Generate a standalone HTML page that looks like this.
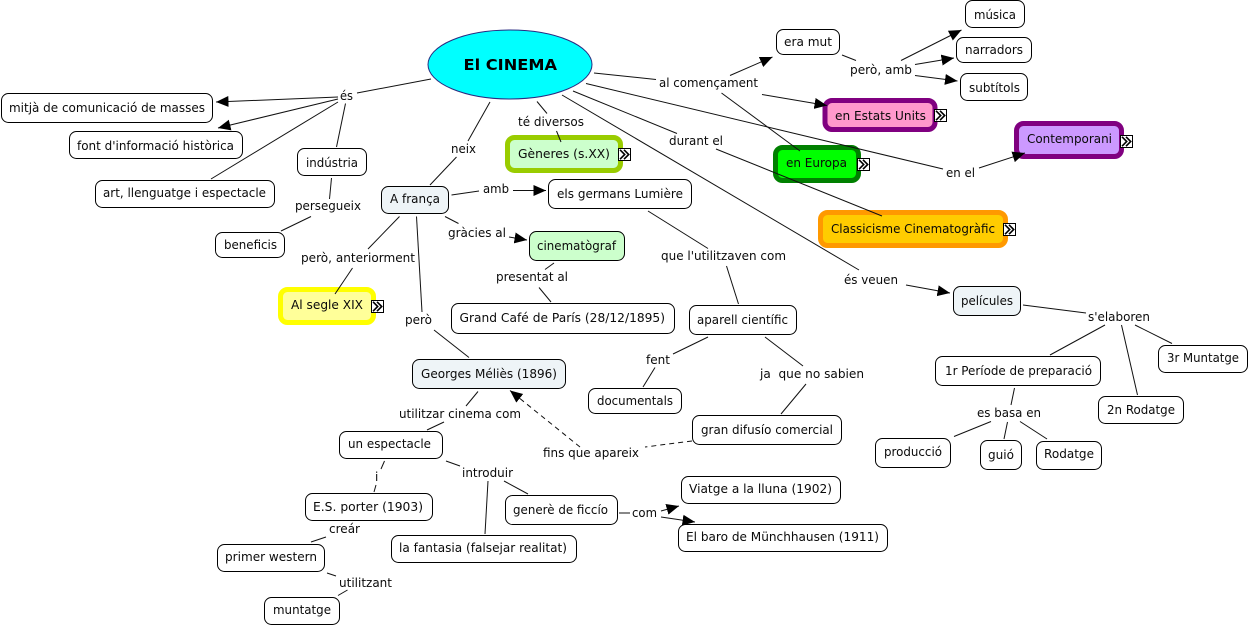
<!DOCTYPE html>
<html><head><meta charset="utf-8"><title>El CINEMA</title>
<style>
html,body{margin:0;padding:0;background:#fff;width:1250px;height:626px;overflow:hidden}
svg{display:block}
text{font-family:"DejaVu Sans","Liberation Sans",sans-serif;font-size:12px;fill:#0a0a0a}
.n{fill:#fff;stroke:#000;stroke-width:1}
.l{stroke:#111;stroke-width:1;fill:none}
.a{stroke:#111;stroke-width:1;fill:none;marker-end:url(#ah)}
.d{stroke:#111;stroke-width:1;fill:none;stroke-dasharray:5 4}
</style></head><body>
<svg width="1250" height="626" viewBox="0 0 1250 626" xmlns="http://www.w3.org/2000/svg">
<defs>
<marker id="ah" markerUnits="userSpaceOnUse" markerWidth="14" markerHeight="13" refX="12.5" refY="6" orient="auto"><path d="M0 0.5L12.5 6L0 11.5Z" fill="#000"/></marker>
<g id="ic"><rect x=".5" y=".5" width="12" height="12" fill="#fff" stroke="#000"/><path d="M2 1.8L6.7 6.5L2 11.2M6 1.8L10.7 6.5L6 11.2" fill="none" stroke="#000" stroke-width="1.6"/></g>
</defs>
<rect width="1250" height="626" fill="#fff"/>

<!-- nodes -->
<ellipse cx="510" cy="64.5" rx="82" ry="34.5" fill="#00ffff" stroke="#2a2a80"/>
<rect class="n" x="1.5" y="93.5" width="211" height="29" rx="7"/>
<rect class="n" x="69.5" y="131.5" width="173" height="27" rx="7"/>
<rect class="n" x="95.5" y="180.5" width="179" height="27" rx="7"/>
<rect class="n" x="297.5" y="148.5" width="69" height="27" rx="7"/>
<rect class="n" x="215.5" y="232.5" width="69" height="25" rx="7"/>
<rect x="381.5" y="186.5" width="67" height="27" rx="7" fill="#eef4f7" stroke="#000"/>
<rect class="n" x="548.5" y="179.5" width="143" height="29" rx="7"/>
<rect x="529.5" y="231.5" width="95" height="29" rx="7" fill="#ccffcc" stroke="#000"/>
<rect class="n" x="451.5" y="303.5" width="223" height="30" rx="7"/>
<rect class="n" x="689.5" y="305.5" width="107" height="29" rx="7"/>
<rect class="n" x="776.5" y="29.5" width="63" height="25" rx="7"/>
<rect class="n" x="965.5" y=".5" width="59" height="27" rx="7"/>
<rect class="n" x="956.5" y="37.5" width="75" height="25" rx="7"/>
<rect class="n" x="960.5" y="73.5" width="67" height="27" rx="7"/>
<rect x="953.5" y="286.5" width="67" height="29" rx="7" fill="#eef4f7" stroke="#000"/>
<rect class="n" x="935.5" y="356.5" width="165" height="29" rx="7"/>
<rect class="n" x="1158.5" y="345.5" width="89" height="27" rx="7"/>
<rect class="n" x="1098.5" y="396.5" width="85" height="27" rx="7"/>
<rect class="n" x="875.5" y="438.5" width="75" height="29" rx="7"/>
<rect class="n" x="980.5" y="440.5" width="41" height="29" rx="7"/>
<rect class="n" x="1036.5" y="441.5" width="65" height="28" rx="7"/>
<rect x="412.5" y="359.5" width="153" height="29" rx="7" fill="#eef4f7" stroke="#000"/>
<rect class="n" x="339.5" y="431.5" width="103" height="27" rx="7"/>
<rect class="n" x="305.5" y="493.5" width="127" height="27" rx="7"/>
<rect class="n" x="505.5" y="495.5" width="112" height="29" rx="7"/>
<rect class="n" x="391.5" y="535.5" width="185" height="27" rx="7"/>
<rect class="n" x="217.5" y="544.5" width="107" height="27" rx="7"/>
<rect class="n" x="264.5" y="597.5" width="75" height="27" rx="7"/>
<rect class="n" x="588.5" y="388.5" width="93" height="25" rx="7"/>
<rect class="n" x="692.5" y="415.5" width="149" height="29" rx="7"/>
<rect class="n" x="681.5" y="476.5" width="159" height="27" rx="7"/>
<rect class="n" x="678.5" y="524.5" width="209" height="27" rx="7"/>

<!-- thick nodes -->
<rect x="280.5" y="289.5" width="93" height="33" rx="7" fill="#ffff99" stroke="#ffff00" stroke-width="5"/>
<rect x="507.5" y="137.5" width="113" height="33" rx="7" fill="#ccffcc" stroke="#99cc00" stroke-width="5"/>
<rect x="825" y="100.5" width="110" height="29" rx="7" fill="#ff99cc" stroke="#800080" stroke-width="5"/>
<rect x="1016.5" y="123.5" width="105" height="33" rx="7" fill="#cc99ff" stroke="#800080" stroke-width="5"/>
<rect x="775.5" y="147.5" width="83" height="33" rx="7" fill="#00ff00" stroke="#008000" stroke-width="5"/>
<rect x="820.5" y="212.5" width="185" height="33" rx="7" fill="#ffcc00" stroke="#ff9900" stroke-width="5"/>
<use href="#ic" x="371" y="300"/>
<use href="#ic" x="618" y="148"/>
<use href="#ic" x="934" y="109"/>
<use href="#ic" x="1120" y="135"/>
<use href="#ic" x="857" y="158"/>
<use href="#ic" x="1003" y="223"/>

<!-- connectors -->
<path class="l" d="M357 93L431 79"/>
<path class="a" d="M338 97L216 102"/>
<path class="a" d="M338 99L218 128"/>
<path class="l" d="M338 102L211 179"/>
<path class="l" d="M345.5 103.5L336.5 147"/>
<path class="l" d="M331.5 178L329.5 199"/>
<path class="l" d="M311 216.5L281 231"/>
<path class="l" d="M399.5 216.5L368 249"/>
<path class="l" d="M352.5 268L335 294"/>
<path class="l" d="M416.5 216.5L422 312"/>
<path class="l" d="M434 330L469 357.5"/>
<path class="l" d="M490 102L468 141"/>
<path class="l" d="M456.5 157L430 185"/>
<path class="l" d="M537 101.5L547 113.5"/>
<path class="l" d="M556.5 131L561 142"/>
<path class="l" d="M451.5 195L479 191"/>
<path class="a" d="M513 190.5L546 190.5"/>
<path class="l" d="M445 216.5L458.5 223.5"/>
<path class="a" d="M509 237L527 240"/>
<path class="l" d="M554 263L545 269.5"/>
<path class="l" d="M539 287.5L551 302"/>
<path class="l" d="M648 211L708 248.5"/>
<path class="l" d="M726.5 266L738.5 304"/>
<path class="l" d="M594 73L656 79.5"/>
<path class="a" d="M730 75.5L772.5 57"/>
<path class="a" d="M762 94.5L827 105.5"/>
<path class="l" d="M721.5 93L800 151"/>
<path class="l" d="M586 83.5L943 169"/>
<path class="a" d="M979 168L1025 153"/>
<path class="l" d="M573 91L677 133.5"/>
<path class="l" d="M716 149L882 216"/>
<path class="l" d="M562 95L859 270"/>
<path class="a" d="M906 285L950 293"/>
<path class="l" d="M1023 305L1086 313"/>
<path class="l" d="M1105 325L1050 355"/>
<path class="l" d="M1121.5 325L1137.5 395"/>
<path class="l" d="M1135 325L1172 343.5"/>
<path class="l" d="M1014.5 388L1011 405"/>
<path class="l" d="M991 421.5L954 436.5"/>
<path class="l" d="M1007.5 422L1004 439"/>
<path class="l" d="M1020 421.5L1047 439"/>
<path class="l" d="M842 55L856 60.5"/>
<path class="a" d="M901 60.5L961.5 30"/>
<path class="a" d="M915 64.5L954 58"/>
<path class="a" d="M915 75.5L957.5 81"/>
<path class="l" d="M708 337L673 354"/>
<path class="l" d="M655 367.5L643 387"/>
<path class="l" d="M765 337L803 366"/>
<path class="l" d="M806 384L781 414"/>
<path class="d" d="M692 441L645 447"/>
<path class="d" d="M580 447L518 397"/>
<path class="a" d="M520 398.5L510 390.5"/>
<path class="l" d="M478 391.5L466 406"/>
<path class="l" d="M444 422L427 430"/>
<path class="l" d="M384.5 461L381 469"/>
<path class="l" d="M376 485L374 492"/>
<path class="l" d="M446 461L460 466"/>
<path class="l" d="M504 481L528 494"/>
<path class="l" d="M488 481L485 534"/>
<path class="l" d="M326 537L311 542"/>
<path class="l" d="M327 573L336 576"/>
<path class="l" d="M347.5 590L338 595.5"/>
<path class="l" d="M619 513L630 513"/>
<path class="a" d="M661 511L679 506"/>
<path class="a" d="M661 517L695 522"/>

<!-- node text -->
<text x="463.5" y="70" textLength="93.5" lengthAdjust="spacingAndGlyphs" style="font-size:15px;font-weight:bold;fill:#000">El CINEMA</text>
<text x="9" y="112" textLength="196" lengthAdjust="spacingAndGlyphs">mitjà de comunicació de masses</text>
<text x="77" y="150" textLength="157" lengthAdjust="spacingAndGlyphs">font d'informació històrica</text>
<text x="103" y="197" textLength="163" lengthAdjust="spacingAndGlyphs">art, llenguatge i espectacle</text>
<text x="306" y="167" textLength="52" lengthAdjust="spacingAndGlyphs">indústria</text>
<text x="224" y="249" textLength="53" lengthAdjust="spacingAndGlyphs">beneficis</text>
<text x="291" y="309" textLength="72" lengthAdjust="spacingAndGlyphs">Al segle XIX</text>
<text x="390" y="203" textLength="50" lengthAdjust="spacingAndGlyphs">A frança</text>
<text x="518" y="158" textLength="92" lengthAdjust="spacingAndGlyphs">Gèneres (s.XX)</text>
<text x="557" y="198" textLength="126" lengthAdjust="spacingAndGlyphs">els germans Lumière</text>
<text x="537" y="250" textLength="79" lengthAdjust="spacingAndGlyphs">cinematògraf</text>
<text x="459.5" y="322" textLength="205.5" lengthAdjust="spacingAndGlyphs">Grand Café de París (28/12/1895)</text>
<text x="697" y="324" textLength="91" lengthAdjust="spacingAndGlyphs">aparell científic</text>
<text x="784" y="46" textLength="48" lengthAdjust="spacingAndGlyphs">era mut</text>
<text x="974" y="19" textLength="42" lengthAdjust="spacingAndGlyphs">música</text>
<text x="965" y="54" textLength="58" lengthAdjust="spacingAndGlyphs">narradors</text>
<text x="969" y="92" textLength="51" lengthAdjust="spacingAndGlyphs">subtítols</text>
<text x="835" y="120" textLength="91" lengthAdjust="spacingAndGlyphs">en Estats Units</text>
<text x="1027" y="143" textLength="85" lengthAdjust="spacingAndGlyphs">Contemporani</text>
<text x="786" y="167" textLength="61" lengthAdjust="spacingAndGlyphs">en Europa</text>
<text x="831" y="233" textLength="164" lengthAdjust="spacingAndGlyphs">Classicisme Cinematogràfic</text>
<text x="961" y="305" textLength="52" lengthAdjust="spacingAndGlyphs">películes</text>
<text x="945" y="375" textLength="147" lengthAdjust="spacingAndGlyphs">1r Període de preparació</text>
<text x="1167" y="362" textLength="72" lengthAdjust="spacingAndGlyphs">3r Muntatge</text>
<text x="1107" y="414" textLength="68" lengthAdjust="spacingAndGlyphs">2n Rodatge</text>
<text x="884" y="456" textLength="58" lengthAdjust="spacingAndGlyphs">producció</text>
<text x="988" y="459" textLength="26" lengthAdjust="spacingAndGlyphs">guió</text>
<text x="1044" y="458" textLength="50" lengthAdjust="spacingAndGlyphs">Rodatge</text>
<text x="421" y="378" textLength="136" lengthAdjust="spacingAndGlyphs">Georges Méliès (1896)</text>
<text x="348" y="448" textLength="83" lengthAdjust="spacingAndGlyphs">un espectacle</text>
<text x="313" y="511" textLength="110" lengthAdjust="spacingAndGlyphs">E.S. porter (1903)</text>
<text x="513" y="514" textLength="95" lengthAdjust="spacingAndGlyphs">generè de ficcío</text>
<text x="399" y="552" textLength="168" lengthAdjust="spacingAndGlyphs">la fantasia (falsejar realitat)</text>
<text x="225" y="561" textLength="92" lengthAdjust="spacingAndGlyphs">primer western</text>
<text x="273" y="614" textLength="58" lengthAdjust="spacingAndGlyphs">muntatge</text>
<text x="597" y="405" textLength="76" lengthAdjust="spacingAndGlyphs">documentals</text>
<text x="701" y="434" textLength="132" lengthAdjust="spacingAndGlyphs">gran difusío comercial</text>
<text x="689" y="493" textLength="143" lengthAdjust="spacingAndGlyphs">Viatge a la lluna (1902)</text>
<text x="686" y="541" textLength="193" lengthAdjust="spacingAndGlyphs">El baro de Münchhausen (1911)</text>

<!-- connector labels -->
<text x="340" y="100" textLength="13" lengthAdjust="spacingAndGlyphs">és</text>
<text x="295" y="210" textLength="66" lengthAdjust="spacingAndGlyphs">persegueix</text>
<text x="301" y="262" textLength="114" lengthAdjust="spacingAndGlyphs">però, anteriorment</text>
<text x="405" y="324" textLength="27" lengthAdjust="spacingAndGlyphs">però</text>
<text x="451" y="153" textLength="25" lengthAdjust="spacingAndGlyphs">neix</text>
<text x="518" y="126" textLength="66" lengthAdjust="spacingAndGlyphs">té diversos</text>
<text x="483" y="193" textLength="26" lengthAdjust="spacingAndGlyphs">amb</text>
<text x="448" y="237" textLength="58" lengthAdjust="spacingAndGlyphs">gràcies al</text>
<text x="496" y="281" textLength="72" lengthAdjust="spacingAndGlyphs">presentat al</text>
<text x="659" y="87" textLength="99" lengthAdjust="spacingAndGlyphs">al començament</text>
<text x="669" y="145" textLength="54" lengthAdjust="spacingAndGlyphs">durant el</text>
<text x="661" y="260" textLength="125" lengthAdjust="spacingAndGlyphs">que l'utilitzaven com</text>
<text x="850" y="74" textLength="62" lengthAdjust="spacingAndGlyphs">però, amb</text>
<text x="946" y="177" textLength="29" lengthAdjust="spacingAndGlyphs">en el</text>
<text x="844" y="284" textLength="54" lengthAdjust="spacingAndGlyphs">és veuen</text>
<text x="1088" y="321" textLength="62" lengthAdjust="spacingAndGlyphs">s'elaboren</text>
<text x="399" y="418" textLength="122" lengthAdjust="spacingAndGlyphs">utilitzar cinema com</text>
<text x="375" y="481">i</text>
<text x="462" y="477" textLength="51" lengthAdjust="spacingAndGlyphs">introduir</text>
<text x="329" y="533" textLength="31" lengthAdjust="spacingAndGlyphs">creár</text>
<text x="339" y="587" textLength="53" lengthAdjust="spacingAndGlyphs">utilitzant</text>
<text x="646" y="364" textLength="24" lengthAdjust="spacingAndGlyphs">fent</text>
<text x="760" y="378" xml:space="preserve" textLength="104" lengthAdjust="spacingAndGlyphs">ja  que no sabien</text>
<text x="543" y="457" textLength="96" lengthAdjust="spacingAndGlyphs">fins que apareix</text>
<text x="632" y="517" textLength="25" lengthAdjust="spacingAndGlyphs">com</text>
<text x="977" y="417" textLength="64" lengthAdjust="spacingAndGlyphs">es basa en</text>
</svg>
</body></html>
